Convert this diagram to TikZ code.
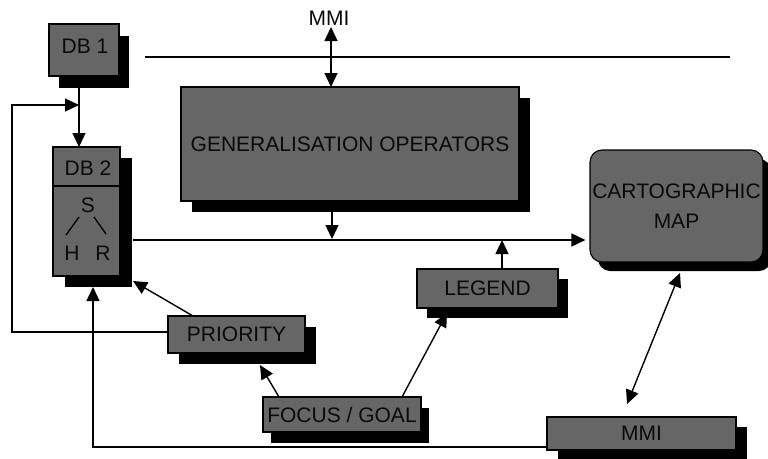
\documentclass[tikz,border=0pt]{standalone}
\usepackage{fontspec}
\setmainfont{Liberation Sans}
\usetikzlibrary{arrows.meta,shadows}

\definecolor{boxgray}{RGB}{102,102,102}
\definecolor{inkblack}{RGB}{10,10,10}

\tikzset{
  block/.style={draw=black, line width=1.1pt, fill=boxgray, inner sep=0pt,
    text=inkblack, font=\fontsize{21}{30}\selectfont, align=center},
  shade/.style 2 args={general shadow={fill=black, shadow xshift=#1pt, shadow yshift=-#2pt}},
  link/.style={line width=1.4pt, draw=black},
  tip/.style={Triangle[length=14pt,width=13pt]},
  arrowlink/.style={link, -{Triangle[length=14pt,width=13pt]}},
  bothlink/.style={link, {Triangle[length=14pt,width=13pt]}-{Triangle[length=14pt,width=13pt]}},
  label/.style={inner sep=0pt, text=inkblack, font=\fontsize{21}{24}\selectfont},
}

\begin{document}
\begin{tikzpicture}[x=1pt,y=-1pt]
\useasboundingbox (0,0) rectangle (768,458);

% anchor points for the connectors
\coordinate (rulestart) at (145,57);
\coordinate (ruleend) at (730,57);
\coordinate (dbfeed) at (79,88);
\coordinate (fbturn) at (12,105);
\coordinate (mainrow) at (0,240);
\coordinate (genout) at (332,201);
\coordinate (legout) at (502,269);
\coordinate (priout) at (193,316);
\coordinate (prihit) at (133,281);
\coordinate (focleft) at (279,397);
\coordinate (prisouth) at (260,365);
\coordinate (focright) at (402,397);
\coordinate (legsouth) at (447,313);
\coordinate (mmiline) at (547,447);
\coordinate (backturn) at (93,447);
\coordinate (db2foot) at (93,287);
\coordinate (cartfoot) at (680,273);
\coordinate (mmitop2) at (627,404);

% connectors that run underneath the boxes
\draw[link] (rulestart) -- (ruleend);
\draw[arrowlink] (dbfeed) -- (79,147);
\draw[arrowlink] (priout) -- (prihit);
\draw[arrowlink] (focleft) -- (prisouth);
\draw[arrowlink] (focright) -- (legsouth);
\draw[arrowlink] (mmiline) -- (backturn) -- (db2foot);
\draw[bothlink] (cartfoot) -- (mmitop2);

% boxes
\node[block, shade={10}{12}, minimum width=70pt, minimum height=52pt] (db1) at (84,50) {};
\node[label] (db1text) at (85,46) {DB 1};

\node[block, shade={11}{11}, minimum width=338pt, minimum height=114pt] (gen) at (350,144) {GENERALISATION OPERATORS};

\node[block, shade={12}{11}, minimum width=67pt, minimum height=129pt] (db2) at (86.5,211.5) {};
\draw[line width=1.1pt] (db2.west |- 0,186) -- (db2.east |- 0,186);
\node[label] (db2text) at (88,168) {DB 2};
\node[label] (sroot) at (88,205) {S};
\node[label] (hleaf) at (72,253) {H};
\node[label] (rleaf) at (103,253) {R};
\draw[line width=1.3pt] (66,235) -- (79,217);
\draw[line width=1.3pt] (94,217) -- (106,234);

\node[block, shade={8}{9}, rounded corners=12pt, minimum width=173pt, minimum height=112pt] (cart) at (676.5,206) {CARTOGRAPHIC\\MAP};

\node[block, shade={10}{10}, minimum width=141pt, minimum height=39pt] (legend) at (487.5,288.5) {LEGEND};
\node[block, shade={11}{11}, minimum width=137pt, minimum height=37pt] (priority) at (236.5,334.5) {PRIORITY};
\node[block, shade={8}{11}, minimum width=158pt, minimum height=35pt] (focus) at (342,414.5) {FOCUS / GOAL};
\node[block, shade={11}{10}, minimum width=189pt, minimum height=33pt] (mmi2) at (641.5,433.5) {MMI};

\node[label] (mmi1) at (329,18) {MMI};

% connectors drawn over the boxes
\draw[bothlink] (331,27) -- (331,87);
\draw[arrowlink] (priority.west |- 0,332) -| (fbturn) -- (dbfeed |- fbturn);
\draw[arrowlink, shorten >=4pt] (133,240) -- (cart.west |- mainrow);
\draw[arrowlink] (genout) -- (332,239);
\draw[arrowlink] (legout) -- (502,240);
\end{tikzpicture}
\end{document}
